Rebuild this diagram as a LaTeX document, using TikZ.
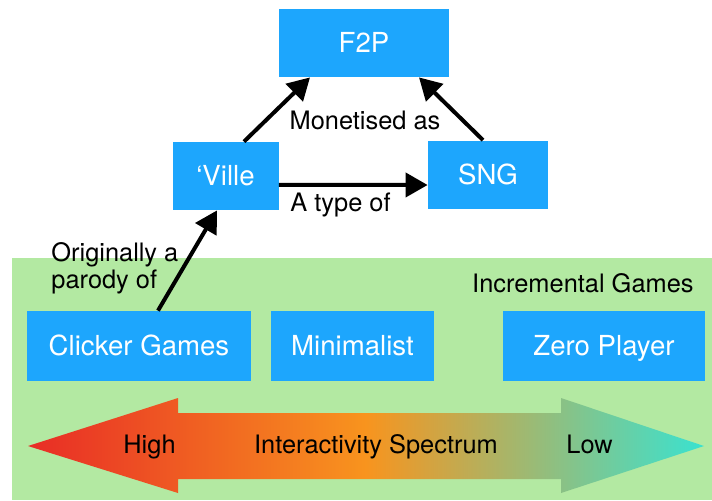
\documentclass[tikz,border=0pt]{standalone}
\usepackage{fontspec}
\setmainfont{TeX Gyre Heros}
\usetikzlibrary{arrows.meta}

\definecolor{boxblue}{RGB}{29,166,253}
\definecolor{zonegreen}{RGB}{179,233,162}
\definecolor{specred}{RGB}{232,44,38}
\definecolor{specorange}{RGB}{248,148,30}
\definecolor{specteal}{RGB}{58,226,208}

% red -> orange -> teal along the interactivity axis
\pgfdeclarehorizontalshading{spectrum}{100bp}{color(0bp)=(specred); color(25bp)=(specred); color(50bp)=(specorange); color(75bp)=(specteal); color(100bp)=(specteal)}

\tikzset{
  gamebox/.style={fill=boxblue, text=white, font=\fontsize{13.8}{16}\selectfont,
    text height=9.9pt, text depth=0pt, inner sep=0pt, minimum height=34pt},
  lbl/.style={inner sep=0pt, font=\fontsize{12.7}{15}\selectfont},
  link/.style={line width=2pt, -{Triangle[length=11pt,width=12pt]}}
}

\begin{document}
\begin{tikzpicture}[x=0.5pt,y=-0.5pt]
  \useasboundingbox (0,0) rectangle (712,500);

  % incremental games zone
  \fill[zonegreen] (12,258) rectangle (712,500);

  % double-headed spectrum arrow
  \shade[shading=spectrum] (28,446) -- (178,398) -- (178,413) -- (561,413) -- (561,398)
    -- (704,446) -- (561,493) -- (561,479) -- (178,479) -- (178,493) -- cycle;

  % boxes
  \node[gamebox, minimum width=85pt] (f2p) at (364,43) {F2P};
  \node[gamebox, minimum width=53pt] (ville) at (225.5,176) {‘Ville};
  \node[gamebox, minimum width=60pt] (sng) at (488,174.5) {SNG};
  \node[gamebox, minimum width=112pt, minimum height=35pt] (clicker) at (139,346) {Clicker Games};
  \node[gamebox, minimum width=81.5pt, minimum height=35pt] (minimal) at (352.5,346) {Minimalist};
  \node[gamebox, minimum width=101pt, minimum height=35pt] (zero) at (604,346) {Zero Player};

  % labels
  \node[lbl, anchor=base] (monet) at (365,129) {Monetised as};
  \node[lbl, anchor=base west] (atype) at (290,211) {A type of};
  \node[lbl, anchor=base west] (orig) at (51,261) {Originally a};
  \node[lbl, anchor=base west] (parody) at (51,288) {parody of};
  \node[lbl, anchor=base east] (incr) at (694,292) {Incremental Games};
  \node[lbl, anchor=base west] (high) at (123,453) {High};
  \node[lbl, anchor=base] (spec) at (376,453) {Interactivity Spectrum};
  \node[lbl, anchor=base west] (low) at (566,453) {Low};

  % relations
  \draw[link] ([xshift=9.25pt]ville.north) -- ([xshift=-27pt]f2p.south);
  \draw[link] ([xshift=-2.5pt]sng.north) -- ([xshift=27.5pt]f2p.south);
  \draw[link] ([yshift=-4.4pt]ville.east) -- ([yshift=-5.25pt]sng.west);
  \draw[link] ([xshift=9.5pt]clicker.north) -- ([xshift=-4.25pt]ville.south);
\end{tikzpicture}
\end{document}
